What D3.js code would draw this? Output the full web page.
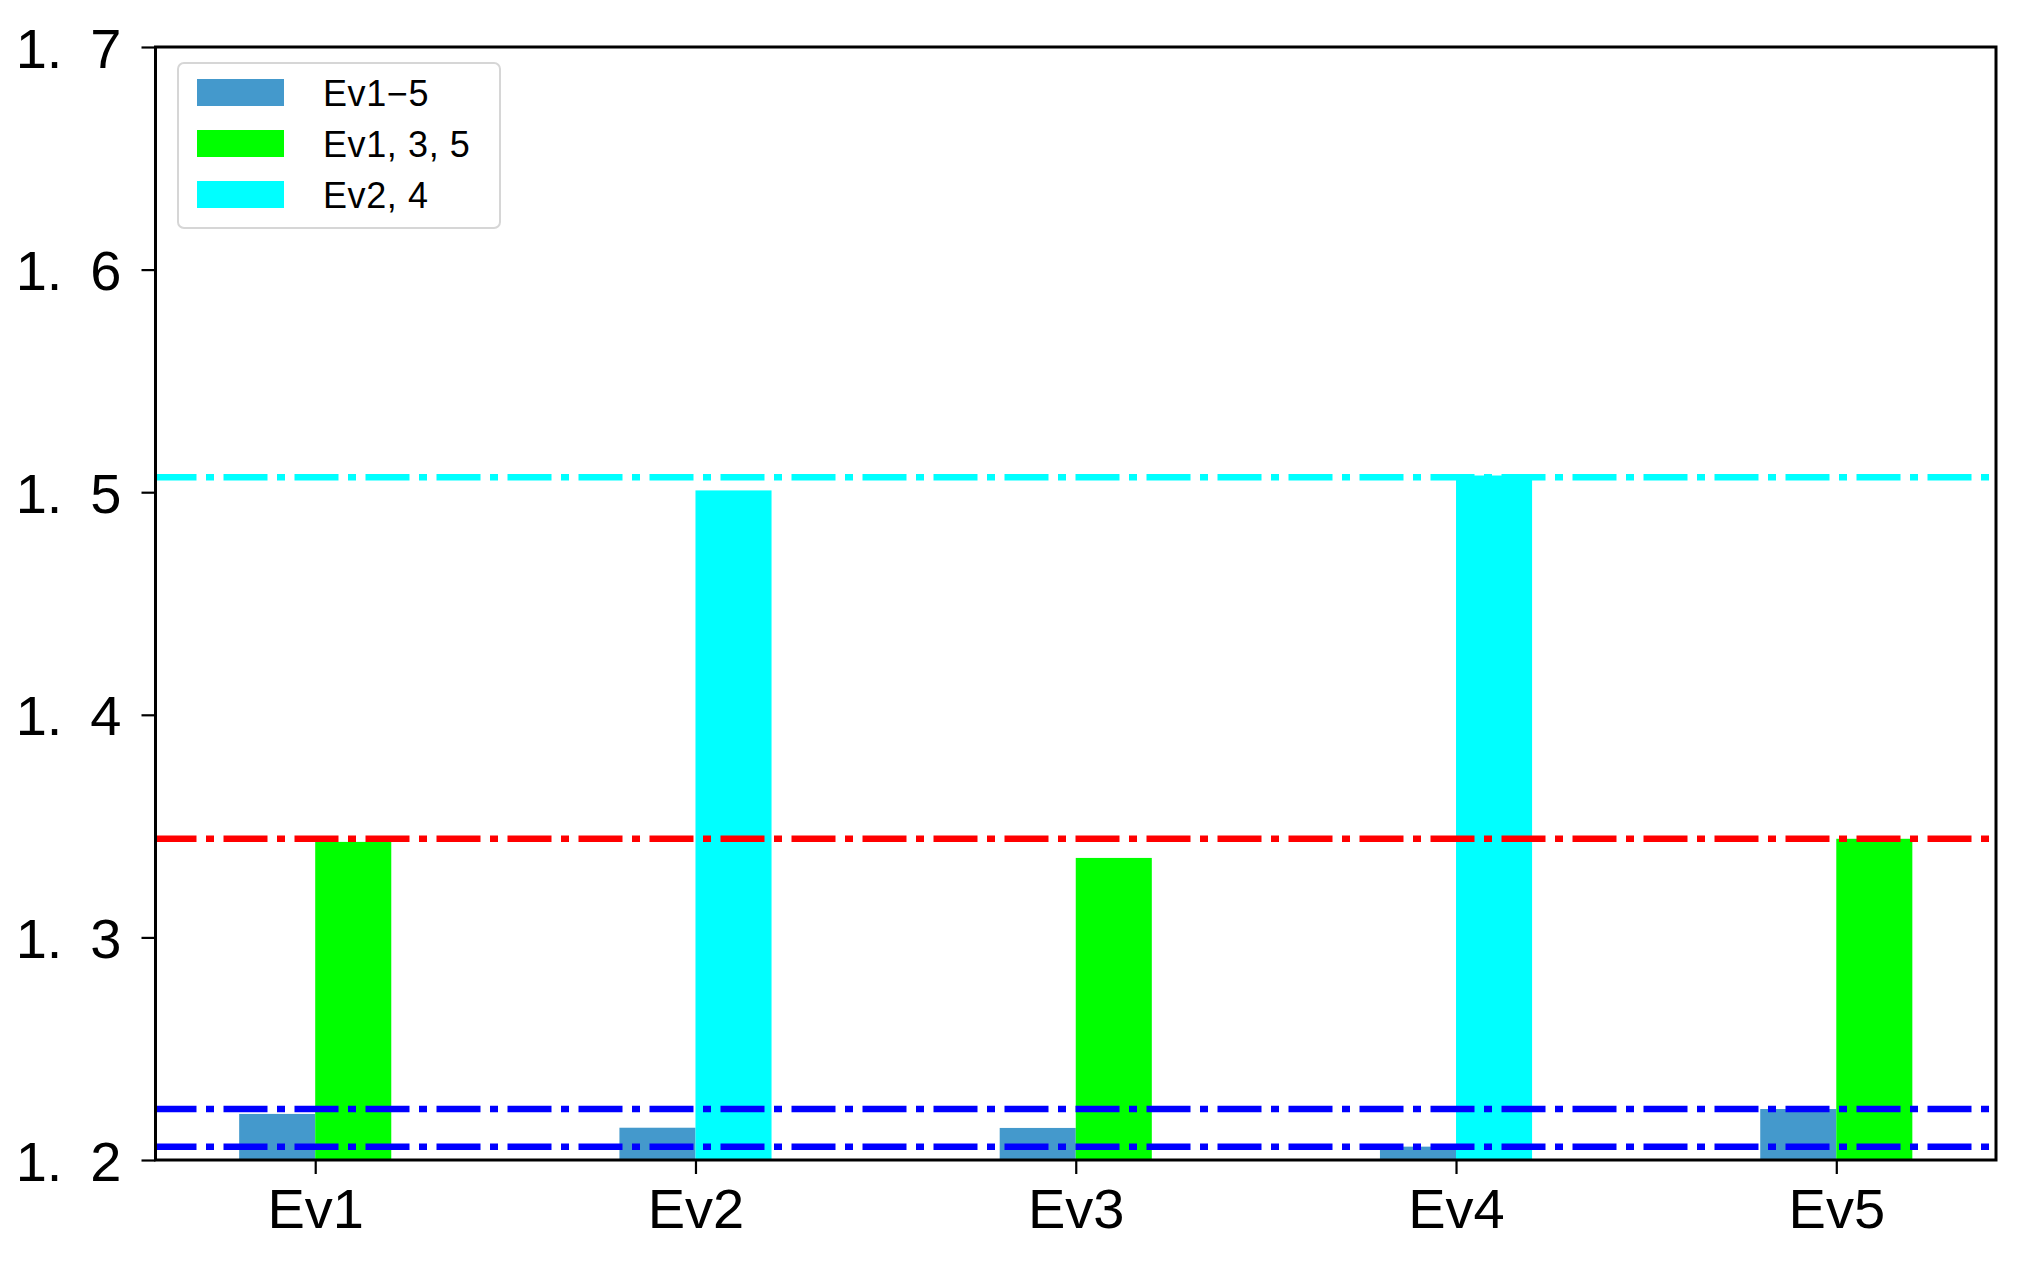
<!DOCTYPE html>
<html>
<head>
<meta charset="utf-8">
<script src="https://cdn.jsdelivr.net/npm/d3@7"></script>
<style>
	body { margin: 0; background: #fff; }
	svg { display: block; }
	text { font-family: "Liberation Sans", Arial, sans-serif; fill: #000; }
</style>
</head>
<body>
<svg width="2021" height="1261"></svg>
<script>
// data
var categories = ["Ev1", "Ev2", "Ev3", "Ev4", "Ev5"];
var allEvValues = [1.2207, 1.2145, 1.2144, 1.2060, 1.2229];
var subsetValues = [1.3429, 1.5008, 1.3357, 1.5075, 1.3443];
var subsetGroup = ["Ev1, 3, 5", "Ev2, 4", "Ev1, 3, 5", "Ev2, 4", "Ev1, 3, 5"];
var legendLabels = ["Ev1\u22125", "Ev1, 3, 5", "Ev2, 4"];
var refLineValues = [1.5067, 1.3443, 1.2229, 1.2060];
var yTicks = [1.2, 1.3, 1.4, 1.5, 1.6, 1.7];

var colors = {"Ev1\u22125": "#4499cc", "Ev1, 3, 5": "#00ff00", "Ev2, 4": "#00ffff"};
var refLineColors = ["#00ffff", "#ff0000", "#0000ff", "#0000ff"];

var svg = d3.select("svg"),
	plotLeft = 155.5, plotRight = 1996, plotTop = 47, plotBottom = 1160,
	barWidth = 0.2;

var x = d3.scaleLinear().domain([-0.42, 4.42]).range([plotLeft, plotRight]);
var y = d3.scaleLinear().domain([1.2, 1.7]).range([plotBottom, plotTop]);

svg.append("defs").append("clipPath").attr("id", "plot")
	.append("rect")
	.attr("x", plotLeft).attr("y", plotTop)
	.attr("width", plotRight - plotLeft).attr("height", plotBottom - plotTop);

var plot = svg.append("g").attr("clip-path", "url(#plot)");

// Ev1-5 bars, left of each tick
plot.append("g").selectAll("rect")
	.data(allEvValues)
	.enter().append("rect")
		.attr("x", function(d, i) { return x(i - barWidth); })
		.attr("width", function(d, i) { return x(i) - x(i - barWidth); })
		.attr("y", function(d) { return y(d); })
		.attr("height", function(d) { return plotBottom - y(d); })
		.attr("fill", colors["Ev1\u22125"]);

// subset bars, right of each tick
plot.append("g").selectAll("rect")
	.data(subsetValues)
	.enter().append("rect")
		.attr("x", function(d, i) { return x(i); })
		.attr("width", function(d, i) { return x(i + barWidth) - x(i); })
		.attr("y", function(d) { return y(d); })
		.attr("height", function(d) { return plotBottom - y(d); })
		.attr("fill", function(d, i) { return colors[subsetGroup[i]]; });

// dash-dot reference lines
plot.append("g").selectAll("line")
	.data(refLineValues)
	.enter().append("line")
		.attr("x1", plotLeft).attr("x2", plotRight)
		.attr("y1", function(d) { return y(d); })
		.attr("y2", function(d) { return y(d); })
		.attr("stroke", function(d, i) { return refLineColors[i]; })
		.attr("stroke-width", 6.5)
		.attr("stroke-dasharray", "44,9.5,8,9.5")
		.attr("stroke-dashoffset", 3);

// axes
var yAxis = svg.append("g")
	.attr("transform", "translate(" + plotLeft + ",0)")
	.call(d3.axisLeft(y)
		.tickValues(yTicks)
		.tickSize(14)
		.tickPadding(20)
		.tickFormat(function(d) { return d.toFixed(1).replace(".", ".\u2002"); }));

var xAxis = svg.append("g")
	.attr("transform", "translate(0," + plotBottom + ")")
	.call(d3.axisBottom(x)
		.tickValues(d3.range(categories.length))
		.tickSize(14)
		.tickPadding(14)
		.tickFormat(function(d) { return categories[d]; }));

[xAxis, yAxis].forEach(function(a) {
	a.select(".domain").remove();
	a.selectAll(".tick line").attr("stroke", "#000").attr("stroke-width", 2.2);
	a.selectAll(".tick text").style("font-size", "56px").style("font-family", "'Liberation Sans', Arial, sans-serif");
});
yAxis.selectAll(".tick text").attr("dy", "0.36em");

// frame
svg.append("rect")
	.attr("x", plotLeft).attr("y", plotTop)
	.attr("width", plotRight - plotLeft).attr("height", plotBottom - plotTop)
	.attr("fill", "none")
	.attr("stroke", "#000")
	.attr("stroke-width", 3);

// legend
var legend = svg.append("g").attr("transform", "translate(178,63)");

legend.append("rect")
	.attr("width", 322).attr("height", 165)
	.attr("rx", 6).attr("ry", 6)
	.attr("fill", "#fff").attr("fill-opacity", 0.8)
	.attr("stroke", "#d6d6d6").attr("stroke-width", 2);

var item = legend.selectAll(".item")
	.data(legendLabels)
	.enter().append("g")
		.attr("class", "item")
		.attr("transform", function(d, i) { return "translate(0," + (16 + i * 51) + ")"; });

item.append("rect")
	.attr("x", 19).attr("width", 87).attr("height", 27)
	.attr("fill", function(d) { return colors[d]; });

item.append("text")
	.attr("x", 145).attr("y", 27)
	.style("font-size", "36px")
	.style("letter-spacing", "0.6px")
	.text(function(d) { return d; });
</script>
</body>
</html>
